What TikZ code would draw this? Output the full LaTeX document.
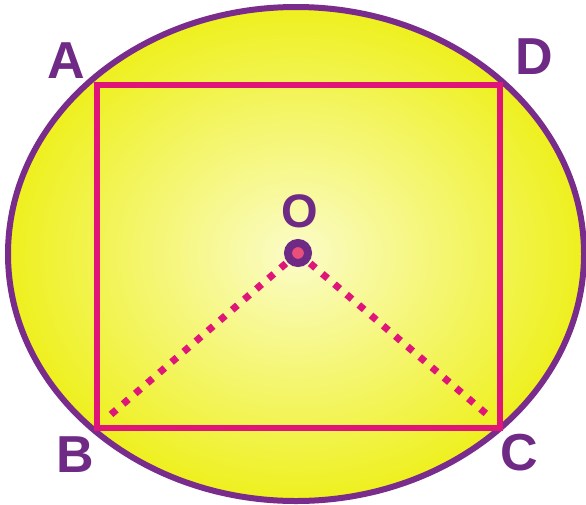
\documentclass[tikz,border=0pt]{standalone}
\usepackage{fontspec}
\setmainfont{Liberation Sans}
\definecolor{rim}{HTML}{7A2C8C}
\definecolor{mag}{HTML}{E0157A}
\definecolor{yin}{HTML}{FBFCC8}
\definecolor{yout}{HTML}{EEF01E}
\definecolor{lab}{HTML}{6E2A84}
\definecolor{dotfill}{HTML}{E8507A}
\begin{document}
\begin{tikzpicture}[x=1pt,y=-1pt,
  lbl/.style={text=lab,font=\fontsize{52}{52}\selectfont\bfseries,inner sep=0pt},
  rimline/.style={draw=rim,line width=6pt},
  rectline/.style={draw=mag,line width=6pt},
  dotline/.style={draw=mag,line width=7pt,dash pattern=on 7pt off 9pt}]
\useasboundingbox (0,0) rectangle (586,504);
\clip (0,0) rectangle (586,504);
\fill[white] (0,0) rectangle (586,504);
\shade[inner color=yin, outer color=yout] (296,254) ellipse [x radius=288, y radius=247];
\draw[rimline] (296,254) ellipse [x radius=288, y radius=247];
\coordinate (A) at (97,85);
\coordinate (D) at (500,85);
\coordinate (C) at (500,428);
\coordinate (B) at (97,428);
\coordinate (Oc) at (298,253);
\coordinate (Bd) at (108,417);
\coordinate (Cd) at (490,417);
\draw[rectline] (A) -- (D) -- (C) -- (B) -- cycle;
\draw[dotline] (Oc) -- (Bd);
\draw[dotline] (Oc) -- (Cd);
\node[circle,draw=lab,fill=dotfill,line width=8pt,minimum size=20pt,inner sep=0pt] (O) at (Oc) {};
\node[lbl] (lA) at (66,61) {A};
\node[lbl] (lD) at (534,57) {D};
\node[lbl] (lB) at (75,455) {B};
\node[lbl] (lC) at (519,453) {C};
\node[lbl,font=\fontsize{47}{47}\selectfont\bfseries] (lO) at (300,211) {O};
\end{tikzpicture}
\end{document}
